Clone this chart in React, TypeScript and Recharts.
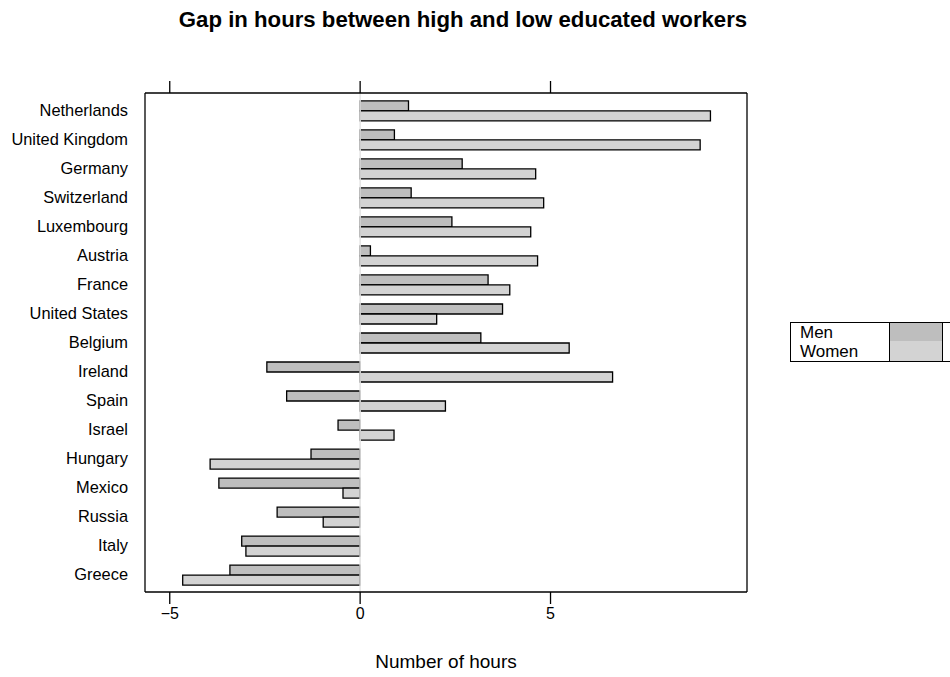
import React from 'react';
import { BarChart, Bar, XAxis, YAxis, ReferenceLine } from 'recharts';

const countries = ['Netherlands', 'United Kingdom', 'Germany', 'Switzerland', 'Luxembourg', 'Austria', 'France', 'United States', 'Belgium', 'Ireland', 'Spain', 'Israel', 'Hungary', 'Mexico', 'Russia', 'Italy', 'Greece'];
const menGap = [1.27, 0.9, 2.68, 1.34, 2.41, 0.27, 3.36, 3.74, 3.17, -2.45, -1.93, -0.58, -1.29, -3.71, -2.18, -3.11, -3.42];
const womenGap = [9.2, 8.93, 4.61, 4.82, 4.48, 4.66, 3.93, 2.01, 5.49, 6.63, 2.24, 0.89, -3.94, -0.45, -0.97, -3.0, -4.66];
const xTicks = [-5, 0, 5];
const xDomain = [-5.65, 10.16];
const legendLabels = ['Men', 'Women'];

const MEN_FILL = '#bebebe';
const WOMEN_FILL = '#d3d3d3';
const FONT = '"Liberation Sans", Arial, Helvetica, sans-serif';

const data = countries.map((name, i) => ({ name, men: menGap[i], women: womenGap[i] }));

const fmt = (v: number) => (v < 0 ? '\u2212' + Math.abs(v) : String(v));

export default function App() {
  return (
    <div style={{ position: 'absolute', left: 0, top: 0, width: 950, height: 677, background: '#fff', fontFamily: FONT, overflow: 'hidden' }}>
      <div style={{ position: 'absolute', left: 0, width: 926, top: 7, textAlign: 'center', fontWeight: 'bold', fontSize: 22.2, color: '#000', whiteSpace: 'nowrap' }}>
        Gap in hours between high and low educated workers
      </div>
      <BarChart
        width={950}
        height={677}
        data={data}
        layout="vertical"
        margin={{ top: 79, left: 8, right: 202, bottom: 35 }}
        barGap={0}
        barSize={10}
      >
        <XAxis
          xAxisId="b"
          type="number"
          orientation="bottom"
          domain={xDomain}
          ticks={xTicks}
          allowDataOverflow
          height={50}
          tickSize={12}
          tickMargin={4}
          tickFormatter={fmt}
          stroke="#000"
          axisLine={{ stroke: '#000', strokeWidth: 1.3 }}
          tickLine={{ stroke: '#000', strokeWidth: 1.3 }}
          tick={{ fill: '#000', fontSize: 16, fontFamily: FONT }}
        />
        <XAxis
          xAxisId="t"
          type="number"
          orientation="top"
          domain={xDomain}
          ticks={xTicks}
          allowDataOverflow
          height={14}
          tickSize={12}
          tickFormatter={() => ''}
          axisLine={{ stroke: '#000', strokeWidth: 1.3 }}
          tickLine={{ stroke: '#000', strokeWidth: 1.3 }}
        />
        <YAxis
          yAxisId="l"
          type="category"
          dataKey="name"
          width={137}
          padding={{ top: 2.9, bottom: 2.9 }}
          tickSize={0}
          tickMargin={17}
          tickLine={false}
          axisLine={{ stroke: '#000', strokeWidth: 1.3 }}
          tick={{ fill: '#000', fontSize: 16.4, fontFamily: FONT }}
          interval={0}
        />
        <YAxis
          yAxisId="r"
          type="category"
          dataKey="name"
          orientation="right"
          width={1}
          tick={false}
          tickLine={false}
          axisLine={{ stroke: '#000', strokeWidth: 1.3 }}
        />
        <ReferenceLine xAxisId="b" yAxisId="l" x={0} stroke="#e4e4e4" strokeWidth={1.5} />
        <Bar xAxisId="b" yAxisId="l" dataKey="men" name="Men" fill={MEN_FILL} stroke="#000" strokeWidth={1.3} isAnimationActive={false} />
        <Bar xAxisId="b" yAxisId="l" dataKey="women" name="Women" fill={WOMEN_FILL} stroke="#000" strokeWidth={1.3} isAnimationActive={false} />
      </BarChart>
      <div style={{ position: 'absolute', left: 346, width: 200, top: 651, textAlign: 'center', fontSize: 19, color: '#000', whiteSpace: 'nowrap' }}>
        Number of hours
      </div>
      <div style={{ position: 'absolute', left: 790, top: 322, width: 175, height: 40, border: '1.3px solid #000', boxSizing: 'border-box' }}>
        <div style={{ position: 'absolute', left: 9, top: 0, fontSize: 17, lineHeight: '19px', color: '#000' }}>{legendLabels[0]}</div>
        <div style={{ position: 'absolute', left: 9, top: 19, fontSize: 17, lineHeight: '19px', color: '#000' }}>{legendLabels[1]}</div>
        <div style={{ position: 'absolute', left: 98, top: -1.3, width: 54, height: 20.5, background: MEN_FILL, border: '1.3px solid #000', boxSizing: 'border-box' }} />
        <div style={{ position: 'absolute', left: 98, top: 18, width: 54, height: 20, background: WOMEN_FILL, borderLeft: '1.3px solid #000', borderRight: '1.3px solid #000', boxSizing: 'border-box' }} />
      </div>
    </div>
  );
}
